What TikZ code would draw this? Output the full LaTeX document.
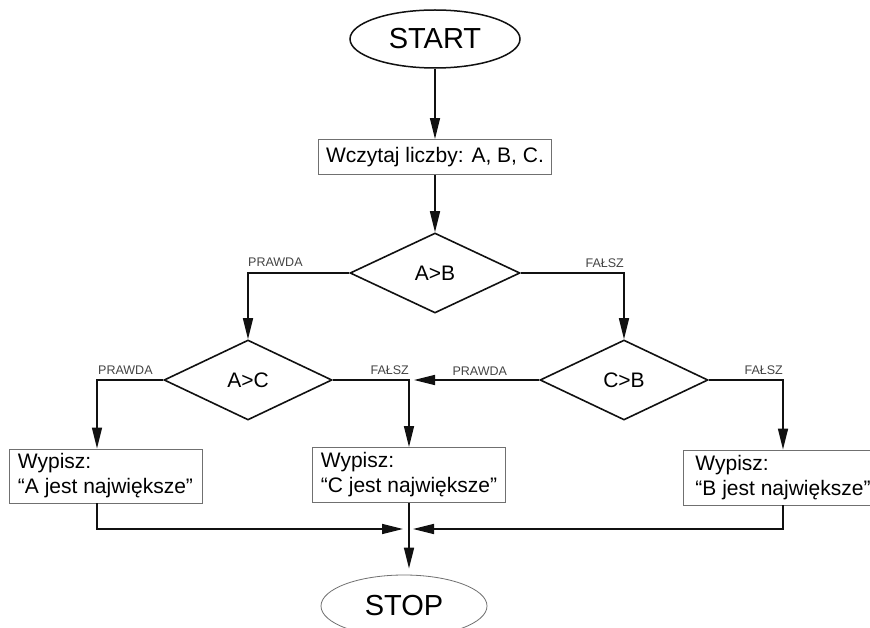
\documentclass[tikz,border=0pt]{standalone}
\usepackage{fontspec}
\setmainfont{Liberation Sans}
\usetikzlibrary{positioning,shapes.geometric,arrows.meta,calc}
\definecolor{dark}{HTML}{111111}
\definecolor{labelgray}{HTML}{444444}
\definecolor{framegray}{HTML}{707070}
\tikzset{
    terminal/.style={ellipse, draw=dark, line width=1.5pt, minimum width=170pt, minimum height=58pt, inner sep=0pt, font=\fontsize{29}{34}\selectfont},
    block/.style={rectangle, draw=framegray, line width=0.9pt, fill=white, align=left, inner xsep=8pt, inner ysep=0pt, font=\fontsize{21}{25}\selectfont},
    decision/.style={diamond, draw=dark, line width=1.6pt, minimum width=170pt, minimum height=80pt, inner sep=0pt, font=\fontsize{21}{25}\selectfont},
    arrow/.style={-{Triangle[length=21pt,width=10pt]}, line width=1.6pt, color=dark},
    lbl/.style={font=\fontsize{12.5}{14}\selectfont, text=labelgray, inner sep=0pt}
}
\begin{document}
\begin{tikzpicture}[x=1pt, y=-1pt]
\fill[white] (0,0) rectangle (870,628);
\useasboundingbox (0,0) rectangle (870,628);
% start and input
\node[terminal] (start) at (435,39) {START};
\node[block, minimum width=232pt, minimum height=35pt] (read) at (435,157) {Wczytaj liczby: A, B, C.};
% decisions
\node[decision] (ab) at (435,273) {A>B};
\node[decision, minimum width=168pt] (ac) at (248,380) {A>C};
\node[decision, minimum width=168pt] (cb) at (624,380) {C>B};
% outputs
\node[block, minimum width=193pt, minimum height=54pt] (boxA) at (105.5,476) {Wypisz:\\``A jest największe''};
\node[block, minimum width=193pt, minimum height=55pt] (boxC) at (409,475) {Wypisz:\\``C jest największe''};
\node[block, minimum width=200pt, minimum height=55pt] (boxB) at (783,477.5) {Wypisz:\\``B jest największe''};
\node[terminal, draw=framegray, line width=0.8pt, minimum width=166pt, minimum height=62pt] (stop) at (404,606) {STOP};
\coordinate (merge) at (409,529);
% connectors
\draw[arrow] (start) -- (read);
\draw[arrow] (read) -- (ab);
\draw[arrow] (ab.west) -| (ac.north);
\draw[arrow] (ab.east) -| (cb.north);
\draw[arrow] (ac.west) -| ([xshift=-8.5pt]boxA.north);
\draw[arrow] (ac.east) -| (boxC.north);
\draw[arrow] (cb.east) -| (boxB.north);
\draw[arrow, shorten >=5pt] (cb.west) -- (cb.west -| boxC.north);
\draw[arrow, shorten >=6pt] ([xshift=-8.5pt]boxA.south) |- (merge);
\draw[arrow, shorten >=4pt] (boxB.south) |- (merge);
\draw[arrow, shorten >=6pt] (boxC.south) -- (boxC.south |- stop.north);
% branch labels
\coordinate (abT) at (ab.west -| ac.north);
\coordinate (abF) at (ab.east -| cb.north);
\coordinate (acT) at ([xshift=-8.5pt]ac.west -| boxA.north);
\coordinate (acF) at (ac.east -| boxC.north);
\coordinate (cbF) at (cb.east -| boxB.north);
\node[lbl, above right=6pt and 0pt of abT] (abTrue) {PRAWDA};
\node[lbl, above left=5pt and 0pt of abF] (abFalse) {FAŁSZ};
\node[lbl, above right=5pt and 1pt of acT] (acTrue) {PRAWDA};
\node[lbl, above left=5pt and 0pt of acF] (acFalse) {FAŁSZ};
\node[lbl, above left=4pt and 32pt of cb.west] (cbTrue) {PRAWDA};
\node[lbl, above left=5pt and 0pt of cbF] (cbFalse) {FAŁSZ};
\end{tikzpicture}
\end{document}
